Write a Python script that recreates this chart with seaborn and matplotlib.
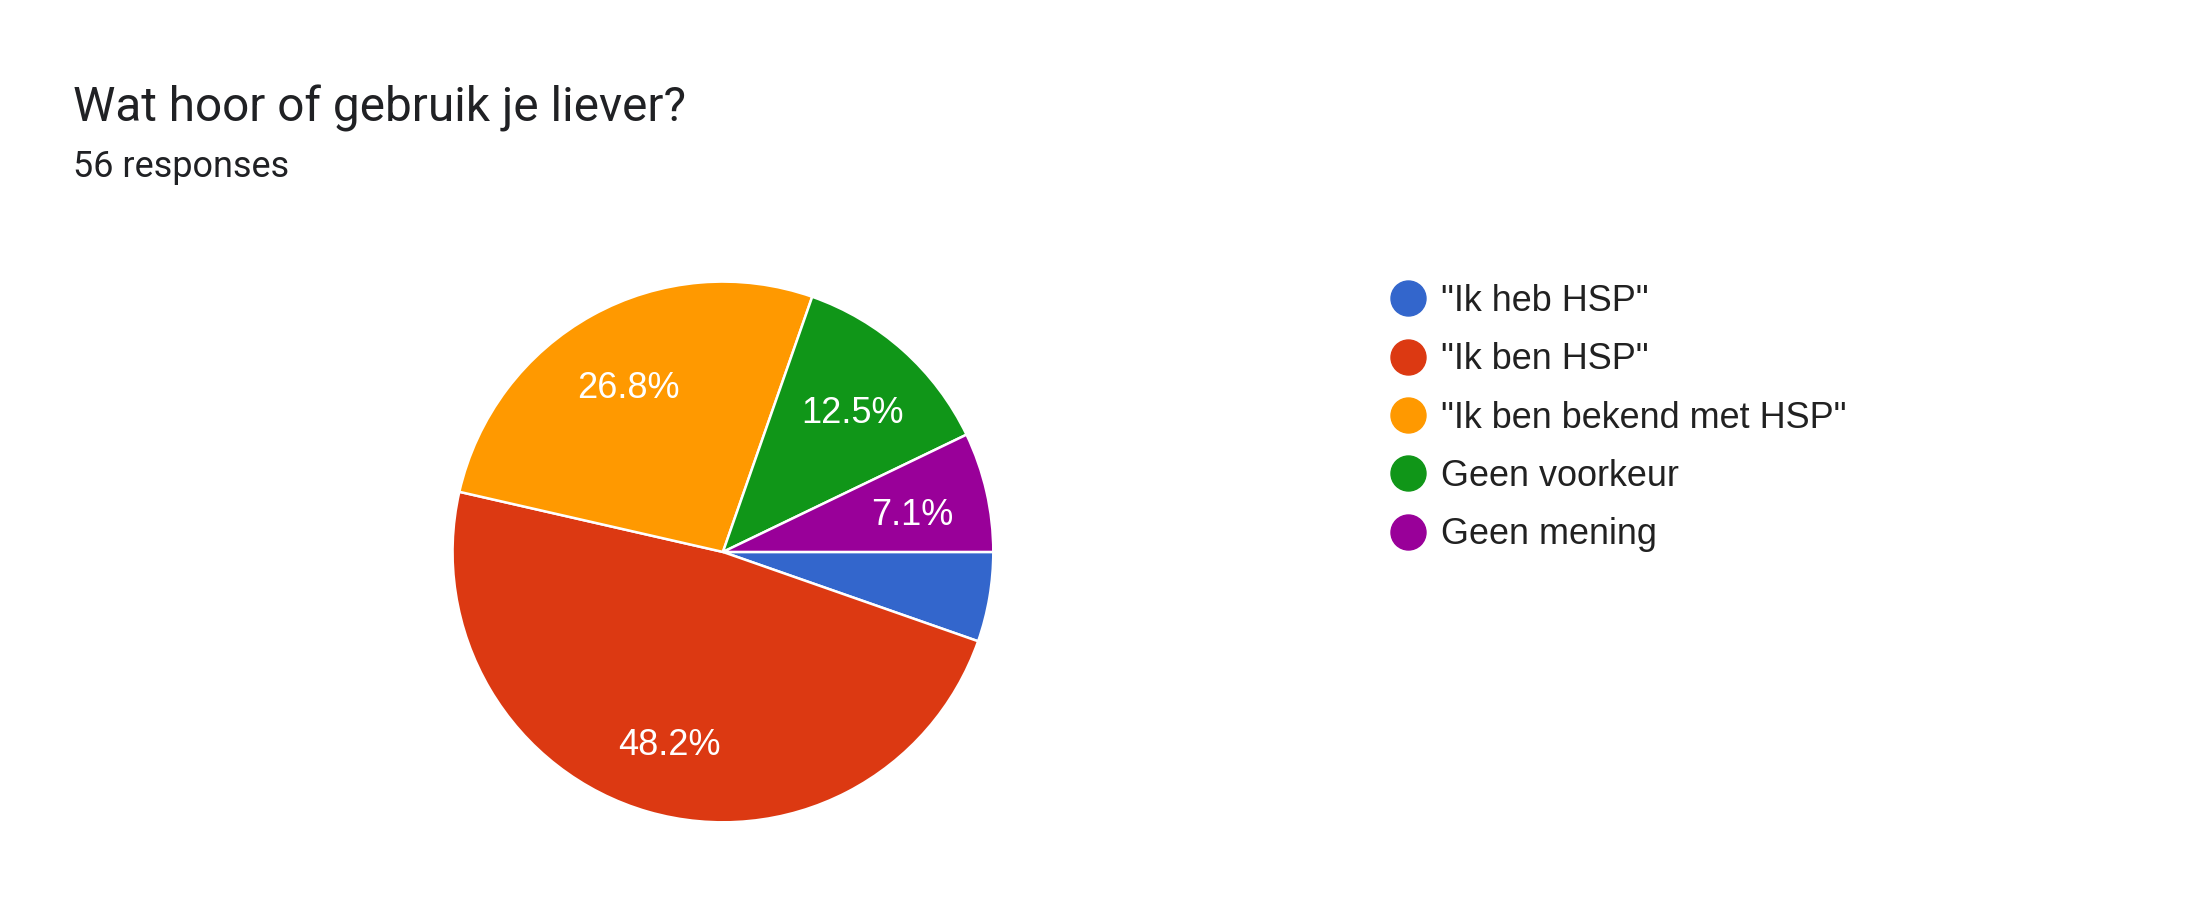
import matplotlib
matplotlib.use('Agg')
import matplotlib.pyplot as plt
import matplotlib.transforms as mtransforms
from matplotlib.lines import Line2D
import seaborn as sns

# Data (56 responses)
categories = ['"Ik heb HSP"', '"Ik ben HSP"', '"Ik ben bekend met HSP"', 'Geen voorkeur', 'Geen mening']
counts = [3, 27, 15, 7, 4]
colors = ['#3366cc', '#dc3912', '#ff9900', '#109618', '#990099']
title = 'Wat hoor of gebruik je liever?'
subtitle = '56 responses'

sns.set_theme(style='white')
plt.rcParams['font.family'] = ['Liberation Sans', 'DejaVu Sans']
palette = sns.color_palette(colors)

fig = plt.figure(figsize=(21.96, 9.24), dpi=100)
fig.patch.set_facecolor('white')

# Pie axes (square)
ax = fig.add_axes([0.2067, 0.1115, 0.245, 0.5823])


def pct_label(p):
    # small slices have no label, like in Google Forms
    return f'{p:.1f}%' if p >= 6 else ''


wedges, texts, autotexts = ax.pie(
    counts, colors=palette, startangle=0, counterclock=False,
    autopct=pct_label, pctdistance=0.72,
    wedgeprops=dict(edgecolor='white', linewidth=1.8),
    textprops=dict(color='white', fontsize=26))
# labels sit a bit lower in the original
for t in autotexts:
    t.set_transform(mtransforms.offset_copy(t.get_transform(), fig=fig, y=-5, units='points'))
ax.set_xlim(-0.995, 0.995)
ax.set_ylim(-0.995, 0.995)
ax.set_aspect('equal')
ax.axis('off')

# Title and subtitle
fig.text(73 / 2196, 1 - 121 / 924, title, fontsize=34.4, family='Roboto',
         color='#202124', va='baseline', ha='left')
fig.text(73 / 2196, 1 - 177 / 924, subtitle, fontsize=25.9, family='Roboto',
         color='#202124', va='baseline', ha='left')

# Legend with round markers
handles = [Line2D([], [], marker='o', linestyle='', markersize=25.2,
                  markerfacecolor=c, markeredgecolor=c) for c in palette]
fig.legend(handles, categories, loc='center left',
           bbox_to_anchor=(1389 / 2196, 1 - 418 / 924),
           frameon=False, fontsize=25.9, handlelength=1.033, handletextpad=0.42,
           labelspacing=0.65, borderpad=0, borderaxespad=0,
           labelcolor='#212121')

fig.savefig('out.png', dpi=100, facecolor='white')
